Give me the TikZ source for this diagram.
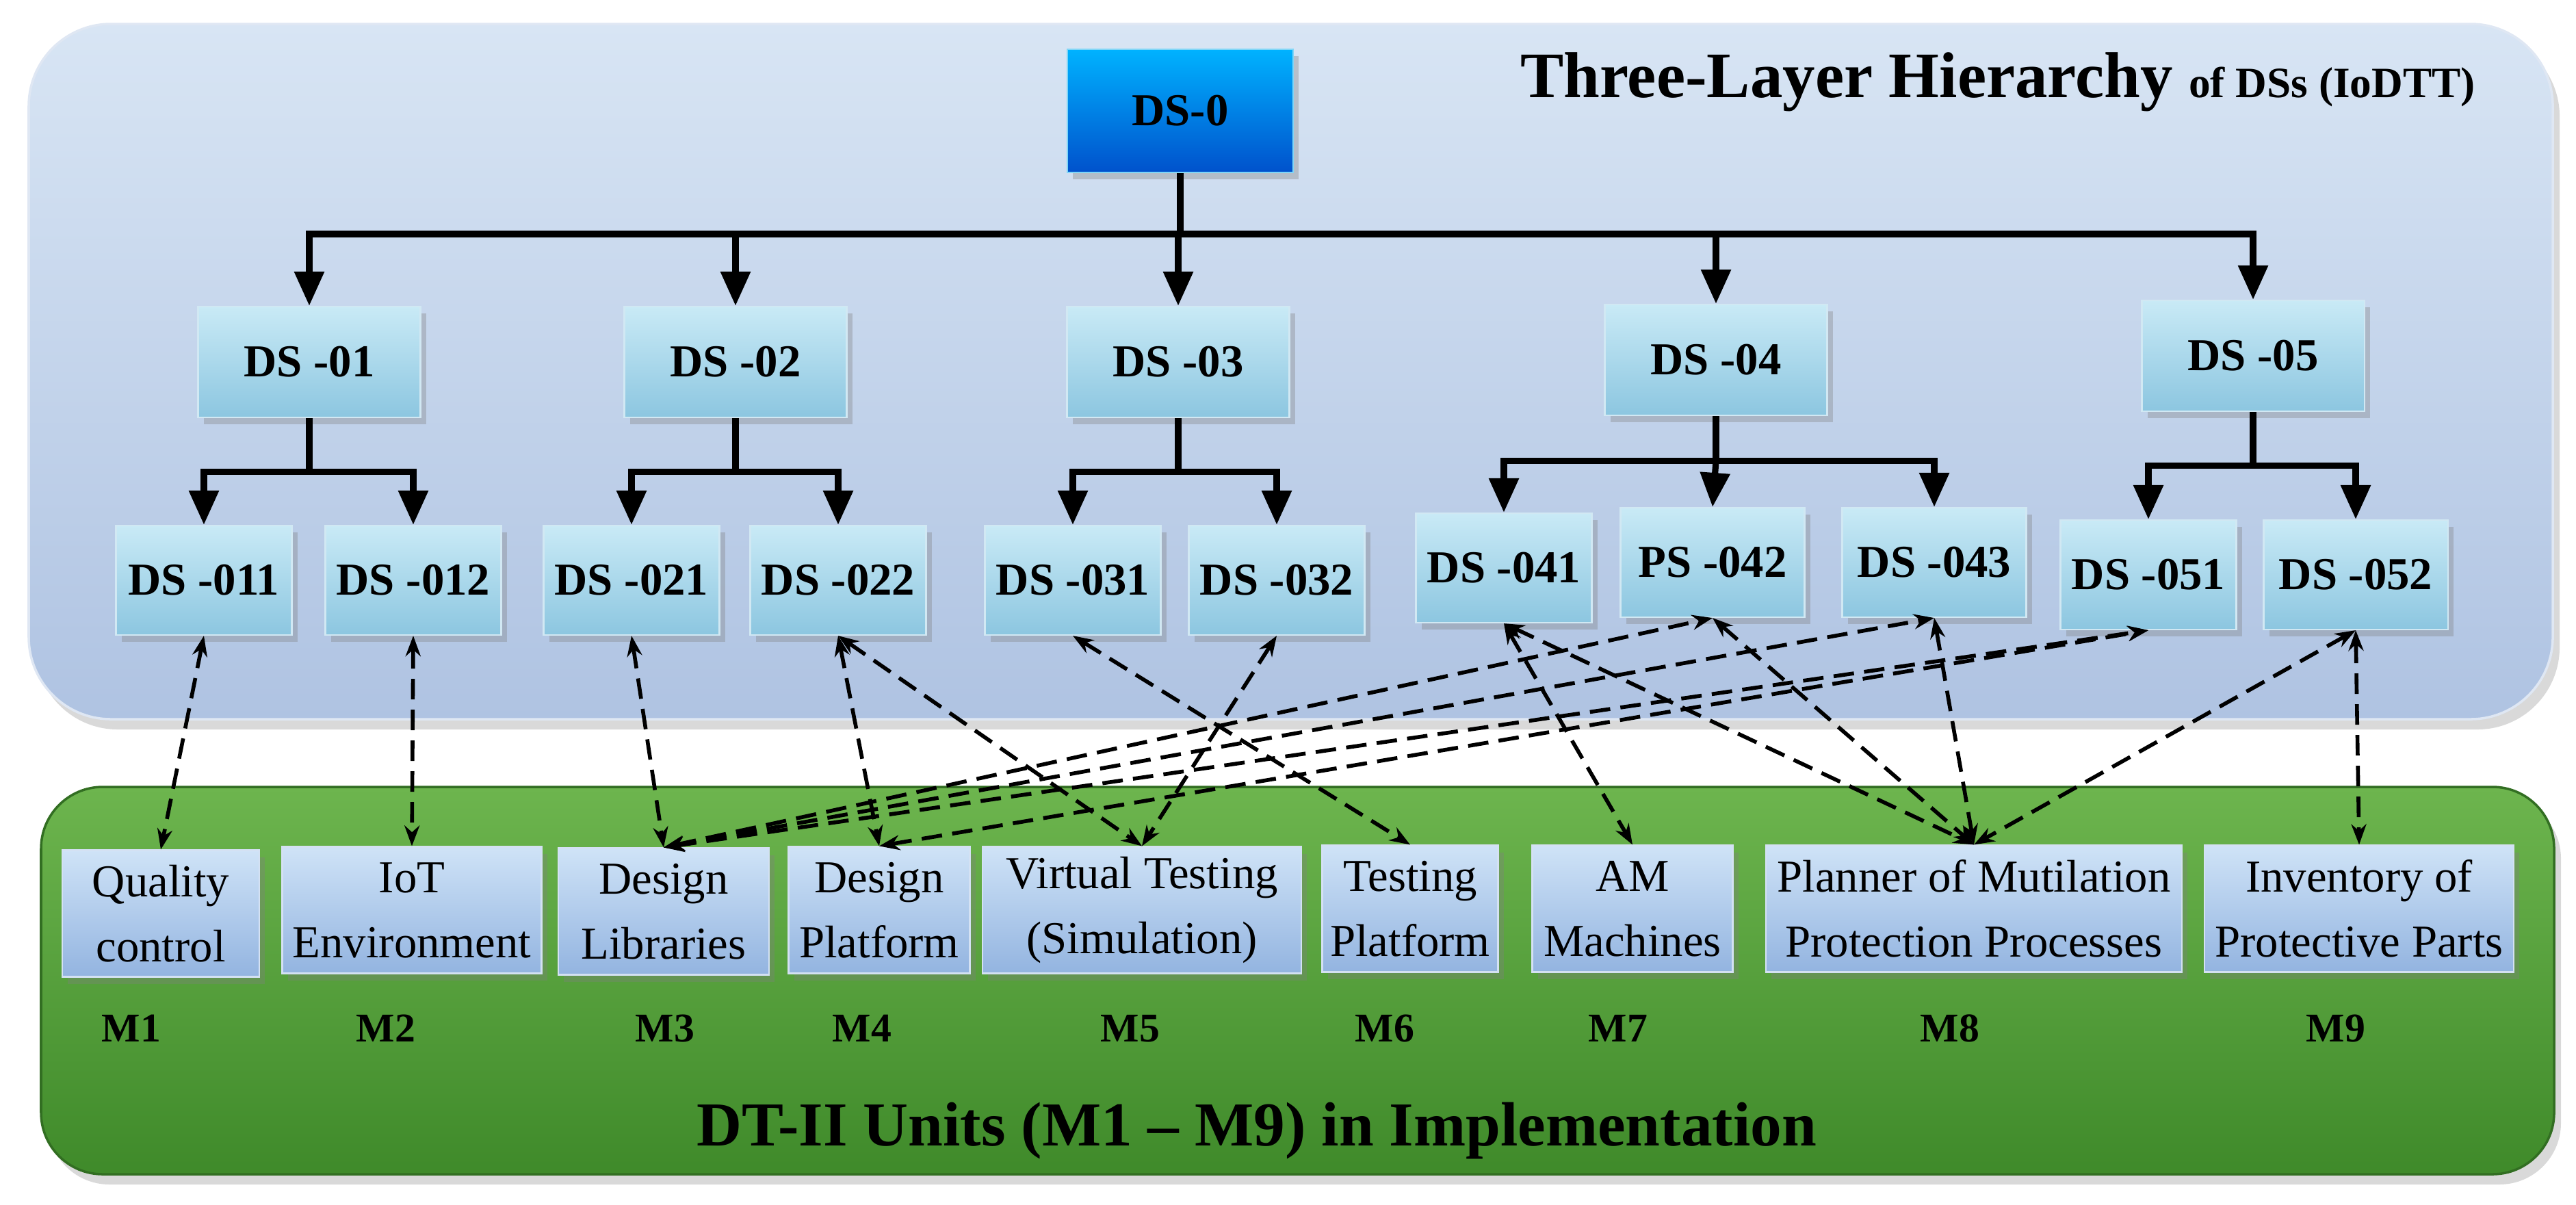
\documentclass[tikz,border=0pt]{standalone}
\usepackage{fontspec}
\setmainfont{Liberation Serif}
\usetikzlibrary{arrows.meta,shadows,calc}
\definecolor{panelB}{HTML}{AFC3E2}
\definecolor{panelBt}{HTML}{D8E5F4}
\definecolor{panelG}{HTML}{3F8A2A}
\definecolor{panelGt}{HTML}{6DB54E}
\definecolor{dsT}{HTML}{C9EAF6}
\definecolor{dsB}{HTML}{8CC6E0}
\definecolor{mT}{HTML}{CFE3F7}
\definecolor{mB}{HTML}{93B4E0}
\begin{document}
\begin{tikzpicture}[x=1cm,y=1cm,
  ds/.style={draw=white!60!dsB,line width=0.6pt,top color=dsT,bottom color=dsB,
     drop shadow={opacity=0.35,shadow xshift=0.08,shadow yshift=-0.1},
     font=\fontsize{19}{22}\selectfont\bfseries,inner sep=2pt},
  l1/.style={ds,minimum width=3.25cm,minimum height=1.62cm},
  l2/.style={ds,minimum width=2.57cm,minimum height=1.6cm},
  mm/.style={draw=white!60!mB,line width=0.6pt,top color=mT,bottom color=mB,
     drop shadow={opacity=0.35,shadow xshift=0.08,shadow yshift=-0.1},
     minimum height=1.85cm,align=center,font=\fontsize{19}{27}\selectfont,inner sep=1pt},
  ml/.style={font=\fontsize{17}{20}\selectfont\bfseries},
  tree/.style={line width=2.6pt,-{Triangle[length=0.5cm,width=0.42cm]}},
  stem/.style={line width=2.6pt},
  link/.style={line width=1.6pt,dash pattern=on 0.3cm off 0.15cm,{Stealth[length=0.3cm,width=0.22cm]}-{Stealth[length=0.3cm,width=0.22cm]}}
]
\useasboundingbox (0,0) rectangle (37.65,-17.6);
% panels
\path[draw=white!60!panelB,line width=1pt,top color=panelBt,bottom color=panelB,rounded corners=1.2cm,
  drop shadow={opacity=0.3,shadow xshift=0.1,shadow yshift=-0.15}] (0.42,-0.35) rectangle (37.31,-10.51);
\path[draw=panelG!80!black,line width=1pt,top color=panelGt,bottom color=panelG,rounded corners=0.9cm,
  drop shadow={opacity=0.3,shadow xshift=0.1,shadow yshift=-0.15}] (0.6,-11.5) rectangle (37.33,-17.16);
% titles
\node (title) at (29.2,-1.2) {\fontsize{27}{30}\selectfont\bfseries Three-Layer Hierarchy {\fontsize{18}{20}\selectfont of DSs (IoDTT)}};
\node (btitle) at (18.37,-16.52) {\fontsize{26}{30}\selectfont\bfseries DT-II Units (M1 -- M9) in Implementation};
% DS nodes
\node[ds,minimum width=3.3cm,minimum height=1.8cm,top color=cyan!70!blue,bottom color=blue!60!cyan!80!black,draw=cyan!50!white] (d0) at (17.25,-1.62) {DS-0};
\node[l1] (d01) at (4.52,-5.29) {DS -01};
\node[l1] (d02) at (10.75,-5.29) {DS -02};
\node[l1] (d03) at (17.22,-5.29) {DS -03};
\node[l1] (d04) at (25.08,-5.26) {DS -04};
\node[l1] (d05) at (32.93,-5.2) {DS -05};
\node[l2] (d011) at (2.98,-8.48) {DS -011};
\node[l2] (d012) at (6.04,-8.48) {DS -012};
\node[l2] (d021) at (9.23,-8.48) {DS -021};
\node[l2] (d022) at (12.25,-8.48) {DS -022};
\node[l2] (d031) at (15.68,-8.48) {DS -031};
\node[l2] (d032) at (18.66,-8.48) {DS -032};
\node[l2] (d041) at (21.98,-8.3) {DS -041};
\node[l2,minimum width=2.69cm] (d042) at (25.03,-8.22) {PS -042};
\node[l2,minimum width=2.69cm] (d043) at (28.27,-8.22) {DS -043};
\node[l2] (d051) at (31.4,-8.4) {DS -051};
\node[l2,minimum width=2.69cm] (d052) at (34.43,-8.4) {DS -052};
% M nodes
\node[mm,minimum width=2.88cm] (m1) at (2.35,-13.35) {Quality\\control};
\node[mm,minimum width=3.79cm] (m2) at (6.02,-13.3) {IoT\\Environment};
\node[mm,minimum width=3.08cm] (m3) at (9.7,-13.32) {Design\\Libraries};
\node[mm,minimum width=2.65cm] (m4) at (12.85,-13.3) {Design\\Platform};
\node[mm,minimum width=4.66cm] (m5) at (16.69,-13.3) {Virtual Testing\\(Simulation)};
\node[mm,minimum width=2.57cm] (m6) at (20.61,-13.28) {Testing\\Platform};
\node[mm,minimum width=2.93cm] (m7) at (23.86,-13.28) {AM\\Machines};
\node[mm,minimum width=6.08cm] (m8) at (28.85,-13.28) {Planner of Mutilation\\Protection Processes};
\node[mm,minimum width=4.52cm] (m9) at (34.48,-13.28) {Inventory of\\Protective Parts};
\node[ml] (l1) at (1.92,-15.03) {M1};
\node[ml] (l2) at (5.64,-15.03) {M2};
\node[ml] (l3) at (9.72,-15.03) {M3};
\node[ml] (l4) at (12.6,-15.03) {M4};
\node[ml] (l5) at (16.52,-15.03) {M5};
\node[ml] (l6) at (20.24,-15.03) {M6};
\node[ml] (l7) at (23.65,-15.03) {M7};
\node[ml] (l8) at (28.5,-15.03) {M8};
\node[ml] (l9) at (34.14,-15.03) {M9};
% tree
\coordinate (bus) at (17.25,-3.42);
\draw[stem] (d0.south) -- (bus);
\foreach \n in {d01,d02,d03,d04,d05} \draw[tree] (bus) -| (\n.north);
\foreach \p/\a/\b in {d01/d011/d012,d02/d021/d022,d03/d031/d032,d05/d051/d052}{
  \coordinate (k\p) at ($(\p.south)+(0,-0.78)$);
  \draw[stem] (\p.south) -- (k\p);
  \draw[tree] (k\p) -| (\a.north);
  \draw[tree] (k\p) -| (\b.north);
}
\coordinate (kd04) at ($(d04.south)+(0,-0.65)$);
\draw[stem] (d04.south) -- (kd04);
\draw[tree] (kd04) -| (d041.north);
\draw[tree] (kd04) -- (d042.north);
\draw[tree] (kd04) -| (d043.north);
% links
\draw[link] (d011.south) -- (m1.north);
\draw[link] (d012.south) -- (m2.north);
\draw[link] (d021.south) -- (m3.north);
\draw[link] (d022.south) -- (m4.north);
\draw[link] (d022.south) -- (m5.north);
\draw[link] (d031.south) -- (m6.north);
\draw[link] (d032.south) -- (m5.north);
\draw[link] (m3.north) -- (d042.south);
\draw[link] (m3.north) -- (d043.south);
\draw[link] (m3.north) -- (d051.south);
\draw[link] (m4.north) -- (d051.south);
\draw[link] (d041.south) -- (m7.north);
\draw[link] (d041.south) -- (m8.north);
\draw[link] (d042.south) -- (m8.north);
\draw[link] (d043.south) -- (m8.north);
\draw[link] (d052.south) -- (m8.north);
\draw[link] (d052.south) -- (m9.north);
\end{tikzpicture}
\end{document}
